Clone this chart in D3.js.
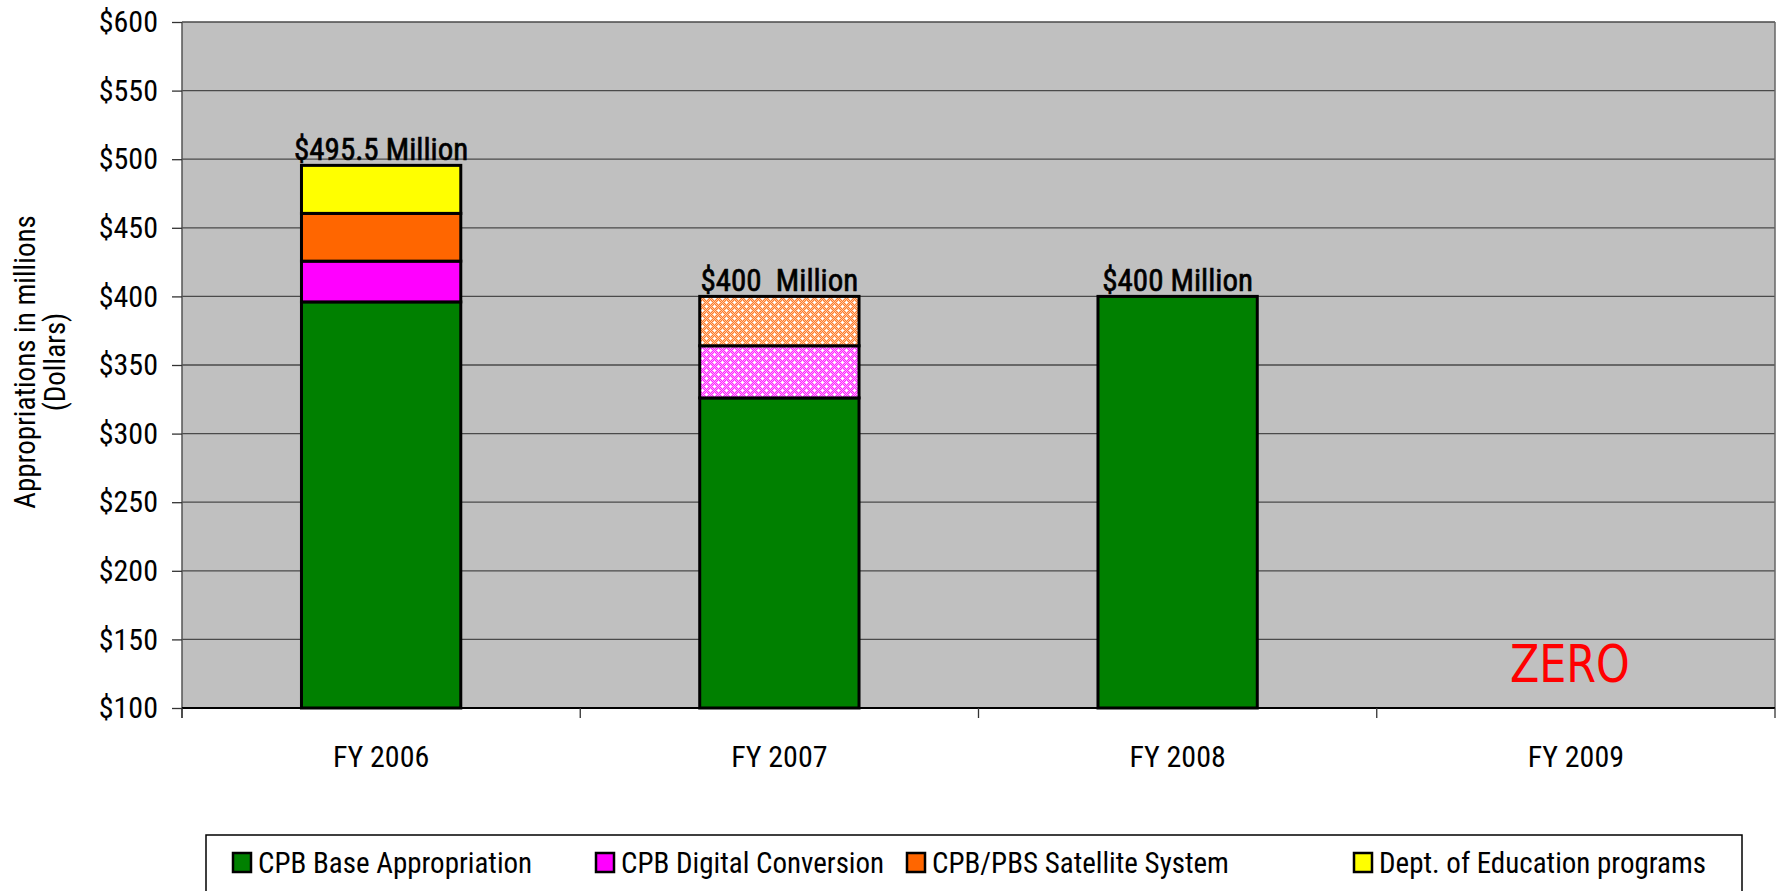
<!DOCTYPE html>
<html>
<head>
<meta charset="utf-8">
<script src="https://d3js.org/d3.v7.min.js"></script>
<style>
body { margin: 0; background: #fff; }
svg { display: block; }
text { font-family: 'Liberation Sans Narrow', 'Arial Narrow', 'Roboto Condensed', 'DejaVu Sans Condensed', sans-serif; }
</style>
</head>
<body>
<svg width="1784" height="891"></svg>
<script>
// chart data
var years = ["FY 2006", "FY 2007", "FY 2008", "FY 2009"];
var seriesNames = ["CPB Base Appropriation", "CPB Digital Conversion", "CPB/PBS Satellite System", "Dept. of Education programs"];
var baseApprop = [396, 326, 400, 0];
var digitalConv = [29.7, 38, 0, 0];
var satellite = [34.8, 36, 0, 0];
var education = [35, 0, 0, 0];
var totalLabels = ["$495.5 Million", "$400  Million", "$400 Million", ""];
var patterned = [false, true, false, false]; // FY2007 drawn with dotted fill
var yTicks = [100, 150, 200, 250, 300, 350, 400, 450, 500, 550, 600];

var colors = ["#008000", "#FF00FF", "#FF6600", "#FFFF00"];

var svg = d3.select("svg");
var plotLeft = 182, plotRight = 1775, plotTop = 22, plotBottom = 708;

var x = d3.scaleBand().domain(years).range([plotLeft, plotRight]).paddingInner(0.6).paddingOuter(0.3);
var y = d3.scaleLinear().domain([100, 600]).range([plotBottom, plotTop]);

// dotted patterns for FY2007
var defs = svg.append("defs");
function makePattern(id, base, light) {
  var p = defs.append("pattern").attr("id", id).attr("patternUnits", "userSpaceOnUse")
    .attr("width", 8).attr("height", 8);
  p.append("rect").attr("width", 8).attr("height", 8).attr("fill", base);
  var d = "";
  for (var i = 0; i < 8; i++) for (var j = 0; j < 8; j++) if ((i + j) % 2 == 0) d += "M" + i + "," + j + "h1v1h-1z";
  p.append("path").attr("d", d).attr("fill", light);
  [[2, 2], [6, 6]].forEach(function (c) {
    p.append("path").attr("d", "M" + (c[0] - 1) + "," + c[1] + "h3v1h-3zM" + c[0] + "," + (c[1] - 1) + "h1v3h-1z").attr("fill", "#fff");
  });
}
makePattern("patOrange", "#FF7A2A", "#FFC8A0");
makePattern("patMagenta", "#FF22FF", "#FFA8FF");

// plot background
svg.append("rect").attr("x", plotLeft).attr("y", plotTop).attr("width", plotRight - plotLeft).attr("height", plotBottom - plotTop)
  .attr("fill", "#C0C0C0");

// gridlines
svg.append("g").selectAll("line").data(yTicks.filter(function (d) { return d > 100; })).join("line")
  .attr("x1", plotLeft).attr("x2", plotRight)
  .attr("y1", function (d) { return y(d); }).attr("y2", function (d) { return y(d); })
  .attr("stroke", "#4a4a4a").attr("stroke-width", 1.3);

// right border
svg.append("line").attr("x1", plotRight).attr("x2", plotRight).attr("y1", plotTop).attr("y2", plotBottom)
  .attr("stroke", "#666").attr("stroke-width", 1.5);

// y axis
var yAxis = d3.axisLeft(y).tickValues(yTicks).tickSize(10).tickPadding(14)
  .tickFormat(function (d) { return "$" + d; });
var gy = svg.append("g").attr("transform", "translate(" + plotLeft + ",0)").call(yAxis);
gy.select(".domain").attr("stroke", "#555").attr("stroke-width", 1.5).attr("d", "M0," + plotTop + "V" + (plotBottom + 10));
gy.selectAll(".tick line").attr("stroke", "#333").attr("stroke-width", 1.3);
gy.selectAll(".tick text").attr("font-size", 30).attr("fill", "#000")
  .style("font-family", "'Liberation Sans Narrow', 'Arial Narrow', 'Roboto Condensed', sans-serif");

// stacked bars
var stackRows = years.map(function (yr, i) {
  return { year: yr, base: baseApprop[i], digital: digitalConv[i], sat: satellite[i], edu: education[i] };
});
var keys = ["base", "digital", "sat", "edu"];
var stacked = d3.stack().keys(keys)(stackRows);

var bars = svg.append("g");
stacked.forEach(function (layer, k) {
  bars.selectAll(".s" + k).data(layer.filter(function (d) { return d[1] - d[0] > 0; })).join("rect")
    .attr("class", "s" + k)
    .attr("x", function (d) { return x(d.data.year); })
    .attr("width", x.bandwidth())
    .attr("y", function (d) { return y(d[1]); })
    .attr("height", function (d) { return y(Math.max(d[0], 100)) - y(d[1]); })
    .attr("fill", function (d) {
      var idx = years.indexOf(d.data.year);
      if (patterned[idx] && k == 1) return "url(#patMagenta)";
      if (patterned[idx] && k == 2) return "url(#patOrange)";
      return colors[k];
    })
    .attr("stroke", "#000").attr("stroke-width", 3);
});

// x axis
svg.append("line").attr("x1", plotLeft).attr("x2", plotRight).attr("y1", plotBottom).attr("y2", plotBottom)
  .attr("stroke", "#000").attr("stroke-width", 2);
var bounds = d3.range(years.length + 1).map(function (i) { return plotLeft + i * x.step(); });
svg.append("g").selectAll("line").data(bounds).join("line")
  .attr("x1", function (d) { return d; }).attr("x2", function (d) { return d; })
  .attr("y1", plotBottom).attr("y2", plotBottom + 10).attr("stroke", "#333").attr("stroke-width", 1.3);
svg.append("g").selectAll("text").data(years).join("text")
  .attr("x", function (d) { return x(d) + x.bandwidth() / 2; })
  .attr("y", 767).attr("text-anchor", "middle").attr("font-size", 30).attr("fill", "#000")
  .text(function (d) { return d; });

// total labels
svg.append("g").selectAll("text").data(years).join("text")
  .attr("x", function (d) { return x(d) + x.bandwidth() / 2; })
  .attr("y", function (d, i) { return y(baseApprop[i] + digitalConv[i] + satellite[i] + education[i]) - 5; })
  .attr("text-anchor", "middle").attr("font-size", 31).attr("fill", "#000")
  .attr("stroke", "#000").attr("stroke-width", 0.6)
  .style("white-space", "pre")
  .text(function (d, i) { return totalLabels[i]; });

// ZERO note for FY2009
svg.append("text")
  .attr("x", x("FY 2009") + x.bandwidth() / 2 - 6).attr("y", 682)
  .attr("text-anchor", "middle").attr("font-size", 52).attr("fill", "#FF0000")
  .attr("textLength", 120).attr("lengthAdjust", "spacingAndGlyphs")
  .style("font-family", "'DejaVu Sans', Verdana, sans-serif")
  .text("ZERO");

// y axis title
var yt = svg.append("text").attr("transform", "translate(35,362) rotate(-90)")
  .attr("text-anchor", "middle").attr("font-size", 29).attr("fill", "#000");
yt.append("tspan").attr("x", 0).attr("dy", 0).text("Appropriations in millions");
yt.append("tspan").attr("x", 0).attr("dy", 30).text("(Dollars)");

// legend
svg.append("rect").attr("x", 206).attr("y", 835).attr("width", 1536).attr("height", 70)
  .attr("fill", "#fff").attr("stroke", "#000").attr("stroke-width", 1.5);
var legX = [233, 596, 907, 1354];
var leg = svg.append("g").selectAll("g").data(seriesNames).join("g")
  .attr("transform", function (d, i) { return "translate(" + legX[i] + ",853)"; });
leg.append("rect").attr("width", 18).attr("height", 19)
  .attr("fill", function (d, i) { return colors[i]; })
  .attr("stroke", "#000").attr("stroke-width", 2.5);
leg.append("text").attr("x", 25).attr("y", 20).attr("font-size", 29).attr("fill", "#000")
  .text(function (d) { return d; });
</script>
</body>
</html>
